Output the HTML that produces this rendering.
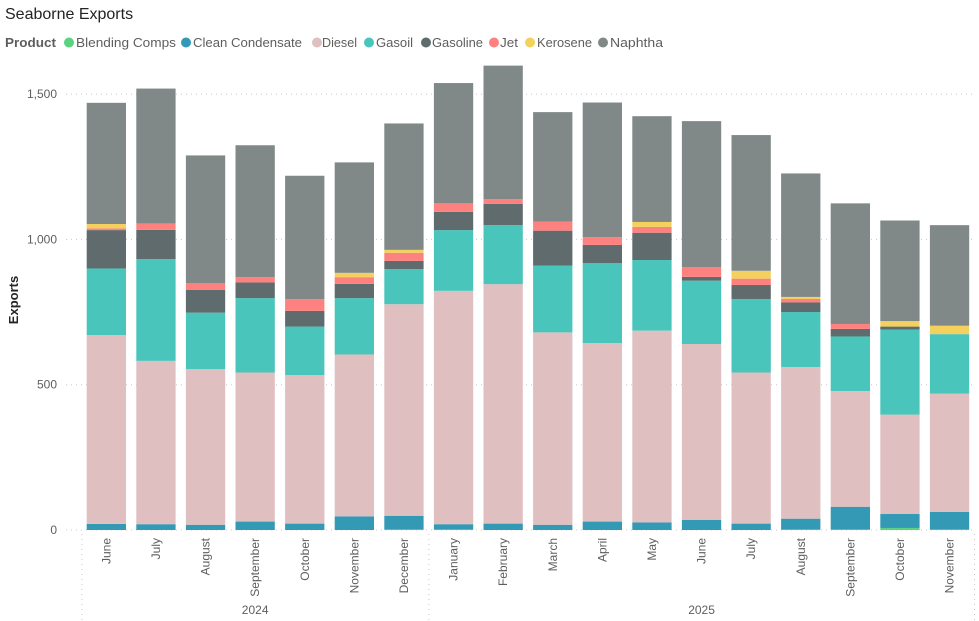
<!DOCTYPE html>
<html><head><meta charset="utf-8"><style>
body{margin:0;background:#fff;width:979px;height:621px;overflow:hidden;font-family:"Liberation Sans",sans-serif}
</style></head><body>
<svg id="chart" width="979" height="621" style="position:absolute;left:0;top:0">
<text x="5" y="19" font-size="16" fill="#252423">Seaborne Exports</text>
<g id="legend" font-size="13" fill="#605e5c">
<text x="5" y="47" font-weight="bold" textLength="51" lengthAdjust="spacingAndGlyphs">Product</text>
</g>
<g id="grid"></g><g id="bars"></g><g id="axes"></g>
<text transform="translate(18,300) rotate(-90)" text-anchor="middle" font-size="13" font-weight="bold" fill="#252423">Exports</text>
</svg>
<script>
const months=["June","July","August","September","October","November","December","January","February","March","April","May","June","July","August","September","October","November"];
const years=["2024","2025"];
const yearCounts=[7,11];
const products=["Blending Comps","Clean Condensate","Diesel","Gasoil","Gasoline","Jet","Kerosene","Naphtha"];
const colors=["#5ad27f","#3399b5","#dfbfc0","#4ac5bb","#5f6b6d","#fd817e","#f3d15c","#808888"];
const blending=[0,0,0,0,0,0,2,2,0,0,0,0,0,0,2,2,7,2];
const cleanCond=[21,20,18,29,22,47,47,18,22,18,29,26,35,22,37,78,48,60];
const diesel=[650,562,536,513,511,557,728,803,824,662,614,660,605,520,522,398,342,407];
const gasoil=[229,350,194,256,167,194,121,209,203,230,275,243,218,253,189,188,293,205];
const gasoline=[132,101,78,54,54,49,28,63,73,120,63,94,13,48,33,26,10,0];
const jet=[6,22,24,18,40,23,28,29,16,31,27,20,33,22,12,17,0,0];
const kerosene=[15,0,0,0,0,15,10,0,0,0,0,17,0,27,7,0,19,29];
const naphtha=[417,464,439,454,425,380,435,414,460,377,463,364,503,467,425,415,346,346];
const yTicks=[0,500,1000,1500];
const yTickLabels=["0","500","1,000","1,500"];
const series=[blending,cleanCond,diesel,gasoil,gasoline,jet,kerosene,naphtha];
const NS="http://www.w3.org/2000/svg";
const y0=530,pxPerUnit=145.3/500,x0=86.7,pitch=49.6,bw=39.3;
const yScale=v=>y0-v*pxPerUnit;
const xBand=i=>x0+i*pitch;
function mk(tag,attrs,parent){const e=document.createElementNS(NS,tag);for(const k in attrs)e.setAttribute(k,attrs[k]);parent.appendChild(e);return e;}
const legend=document.getElementById('legend');
const legX=[69,186,317,369,426,494,530,603];
const legT=[76,193,322,376,432,500,537,610];
const legEnd=[176,302,357,413,483,518,592,663];
products.forEach((p,i)=>{
  const c=mk('circle',{cx:legX[i],cy:42.5,r:5,fill:colors[i]},legend);
  
  
  const t=mk('text',{x:legT[i],y:47,textLength:legEnd[i]-legT[i],lengthAdjust:'spacingAndGlyphs'},legend);t.textContent=p;
  
  
});
const grid=document.getElementById('grid');
yTicks.forEach((v,i)=>{
  const l=mk('line',{x1:66,x2:975,y1:yScale(v),y2:yScale(v),stroke:'#c8c8c8','stroke-dasharray':'1 4'},grid);
  
  
  const t=mk('text',{x:57,y:yScale(v)+4,'text-anchor':'end','font-size':'12',fill:'#605e5c'},grid);
  t.textContent=yTickLabels[i];
  
  
});
const bars=document.getElementById('bars');
months.forEach((m,i)=>{
  let cum=0;
  const g=mk('g',{},bars);
  
  
  series.forEach((s,k)=>{
    const v=s[i];if(v<=0){return;}
    const r=mk('rect',{x:xBand(i),y:yScale(cum+v),width:bw,height:v*pxPerUnit,fill:colors[k]},g);
    
    
    cum+=v;
  });
  const tx=xBand(i)+bw/2+4;
  const t=mk('text',{transform:`translate(${tx},538) rotate(-90)`,'text-anchor':'end','font-size':'12',fill:'#605e5c'},document.getElementById('axes'));
  t.textContent=m;
  
  
});
const axes=document.getElementById('axes');
let start=0;
const seps=[82];
yearCounts.forEach((n,j)=>{
  const cx=(xBand(start)+xBand(start+n-1)+bw)/2;
  const t=mk('text',{x:cx,y:614,'text-anchor':'middle','font-size':'12',fill:'#605e5c'},axes);
  t.textContent=years[j];
  
  
  start+=n;
  seps.push(xBand(start)-5);
});
seps.forEach(x=>{
  const l=mk('line',{x1:x,x2:x,y1:534,y2:621,stroke:'#c8c8c8','stroke-dasharray':'1 4'},axes);
  
  
});
</script>
</body></html>
